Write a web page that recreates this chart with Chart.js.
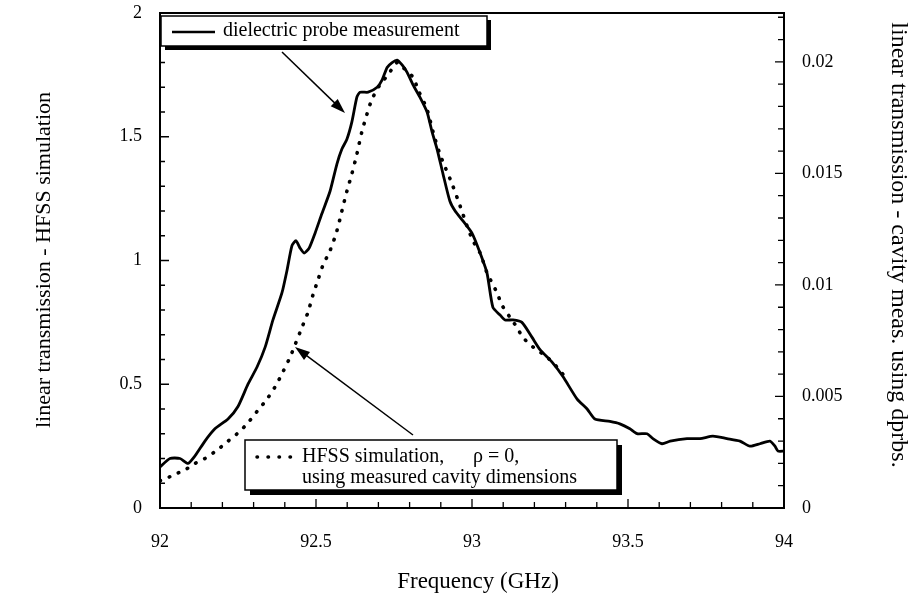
<!DOCTYPE html>
<html>
<head>
<meta charset="utf-8">
<script src="https://cdn.jsdelivr.net/npm/chart.js@4.4.1/dist/chart.umd.min.js"></script>
<style>
  body { margin: 0; background: #fff; }
  canvas { display: block; }
</style>
</head>
<body>
<canvas id="chart" width="912" height="595"></canvas>
<script>
// Dielectric probe measurement (right axis, linear transmission)
const measFreq = [
  92.000, 92.032, 92.064, 92.090, 92.112, 92.144, 92.176, 92.218, 92.250, 92.282,
  92.311, 92.337, 92.362, 92.391, 92.407, 92.423, 92.436, 92.449, 92.462, 92.478,
  92.497, 92.519, 92.545, 92.567, 92.583, 92.599, 92.615, 92.631, 92.641, 92.667,
  92.696, 92.712, 92.728, 92.744, 92.760, 92.776, 92.792, 92.811, 92.833, 92.856,
  92.872, 92.888, 92.907, 92.929, 92.946, 92.971, 93.000, 93.026, 93.048, 93.067,
  93.090, 93.106, 93.131, 93.160, 93.192, 93.218, 93.256, 93.292, 93.337, 93.369,
  93.394, 93.442, 93.474, 93.506, 93.529, 93.561, 93.580, 93.609, 93.635, 93.689,
  93.731, 93.772, 93.817, 93.859, 93.891, 93.923, 93.955, 93.971, 93.981, 94.000
];
const measVal = [
  0.00184, 0.00222, 0.00222, 0.00200, 0.00233, 0.00300, 0.00355, 0.00399, 0.00455, 0.00555,
  0.00632, 0.00721, 0.00843, 0.00965, 0.01065, 0.01176, 0.01198, 0.01165, 0.01143, 0.01165,
  0.01232, 0.01320, 0.01420, 0.01542, 0.01609, 0.01653, 0.01731, 0.01842, 0.01864, 0.01864,
  0.01886, 0.01919, 0.01975, 0.01997, 0.02008, 0.01986, 0.01953, 0.01897, 0.01842, 0.01775,
  0.01686, 0.01609, 0.01498, 0.01376, 0.01331, 0.01287, 0.01232, 0.01143, 0.01054, 0.00899,
  0.00865, 0.00843, 0.00843, 0.00832, 0.00766, 0.00710, 0.00655, 0.00588, 0.00488, 0.00444,
  0.00399, 0.00388, 0.00377, 0.00355, 0.00333, 0.00333, 0.00311, 0.00288, 0.00300, 0.00311,
  0.00311, 0.00322, 0.00311, 0.00300, 0.00277, 0.00288, 0.00300, 0.00277, 0.00255, 0.00255
];

// HFSS simulation (left axis)
const simFreq = [
  92.000, 92.010, 92.042, 92.080, 92.112, 92.144, 92.183, 92.215, 92.247, 92.279,
  92.311, 92.343, 92.369, 92.394, 92.417, 92.433, 92.455, 92.474, 92.490, 92.506,
  92.522, 92.545, 92.567, 92.583, 92.599, 92.615, 92.631, 92.647, 92.663, 92.679,
  92.705, 92.731, 92.760, 92.779, 92.811, 92.827, 92.856, 92.875, 92.897, 92.913,
  92.936, 92.962, 92.984, 93.003, 93.026, 93.048, 93.064, 93.080, 93.096, 93.122,
  93.144, 93.163, 93.196, 93.240, 93.272, 93.298
];
const simVal = [
  0.110, 0.113, 0.133, 0.154, 0.180, 0.200, 0.234, 0.267, 0.300, 0.340,
  0.390, 0.440, 0.490, 0.550, 0.610, 0.660, 0.730, 0.790, 0.860, 0.920,
  0.980, 1.040, 1.120, 1.200, 1.280, 1.350, 1.430, 1.520, 1.590, 1.650,
  1.710, 1.750, 1.800, 1.780, 1.740, 1.690, 1.610, 1.520, 1.430, 1.380,
  1.310, 1.220, 1.140, 1.080, 1.030, 0.950, 0.910, 0.870, 0.820, 0.770,
  0.730, 0.690, 0.650, 0.610, 0.570, 0.530
];

// axis ranges and labels
const freqRange = [92, 94];
const leftRange = [0, 2];
const rightRange = [0, 0.02219];
const xTitle = 'Frequency (GHz)';
const leftTitle = 'linear transmission - HFSS simulation';
const rightTitle = 'linear transmission - cavity meas. using dprbs.';
const measLabel = 'dielectric probe measurement';
const simLabel1 = 'HFSS simulation,';
const simLabel2 = '\u03C1 = 0,';
const simLabel3 = 'using measured cavity dimensions';

const serif = '"Liberation Serif", "Times New Roman", serif';

function fmt(v) {
  return String(Number(v.toFixed(4)));
}

function drawArrow(ctx, x1, y1, x2, y2) {
  const ang = Math.atan2(y2 - y1, x2 - x1);
  const len = 15, half = 5;
  ctx.beginPath();
  ctx.moveTo(x1, y1);
  ctx.lineTo(x2 - Math.cos(ang) * len * 0.8, y2 - Math.sin(ang) * len * 0.8);
  ctx.lineWidth = 1.5;
  ctx.stroke();
  ctx.beginPath();
  ctx.moveTo(x2, y2);
  ctx.lineTo(x2 - Math.cos(ang) * len - Math.sin(ang) * half, y2 - Math.sin(ang) * len + Math.cos(ang) * half);
  ctx.lineTo(x2 - Math.cos(ang) * len + Math.sin(ang) * half, y2 - Math.sin(ang) * len - Math.cos(ang) * half);
  ctx.closePath();
  ctx.fill();
}

function shadowBox(ctx, x, y, w, h, off) {
  ctx.fillStyle = '#000';
  ctx.fillRect(x + off, y + off, w, h);
  ctx.fillStyle = '#fff';
  ctx.fillRect(x, y, w, h);
  ctx.lineWidth = 1.5;
  ctx.strokeRect(x, y, w, h);
}

// no extra room for overhanging tick labels, keep the plot box fixed
function fixSide(size, key) {
  return (s) => {
    s[key] = size;
    s.paddingTop = 0;
    s.paddingBottom = 0;
    s.paddingLeft = 0;
    s.paddingRight = 0;
  };
}

// frame, inward ticks, titles, legend boxes and arrows
const decorations = {
  id: 'decorations',
  afterDatasetsDraw(chart) {
    const ctx = chart.ctx;
    const { left, right, top, bottom } = chart.chartArea;
    const xs = chart.scales.x, yl = chart.scales.y, yr = chart.scales.y2;
    ctx.save();
    ctx.strokeStyle = '#000';
    ctx.fillStyle = '#000';

    // frame
    ctx.lineWidth = 2;
    ctx.strokeRect(left, top, right - left, bottom - top);

    // ticks pointing into the plot
    ctx.lineWidth = 1.3;
    ctx.beginPath();
    for (let i = 0; i <= 20; i++) {
      const px = xs.getPixelForValue(92 + i * 0.1);
      const len = i % 5 === 0 ? 9 : 6;
      ctx.moveTo(px, bottom);
      ctx.lineTo(px, bottom - len);
    }
    for (let i = 0; i <= 20; i++) {
      const py = yl.getPixelForValue(i * 0.1);
      const len = i % 5 === 0 ? 9 : 5;
      ctx.moveTo(left, py);
      ctx.lineTo(left + len, py);
    }
    for (let i = 0; i <= 22; i++) {
      const py = yr.getPixelForValue(i * 0.001);
      const len = i % 5 === 0 ? 9 : 6;
      ctx.moveTo(right, py);
      ctx.lineTo(right - len, py);
    }
    ctx.stroke();

    // axis titles
    ctx.textAlign = 'center';
    ctx.textBaseline = 'middle';
    ctx.font = '23px ' + serif;
    ctx.fillText(xTitle, 478, 582);
    ctx.font = '22px ' + serif;
    ctx.save();
    ctx.translate(44, 260);
    ctx.rotate(-Math.PI / 2);
    ctx.fillText(leftTitle, 0, 0);
    ctx.restore();
    ctx.font = '24px ' + serif;
    ctx.save();
    ctx.translate(898, 245);
    ctx.rotate(Math.PI / 2);
    ctx.fillText(rightTitle, 0, 0);
    ctx.restore();

    // legend box: measurement
    shadowBox(ctx, 161, 16, 326, 30, 4);
    ctx.fillStyle = '#000';
    ctx.lineWidth = 2.5;
    ctx.beginPath();
    ctx.moveTo(172, 32);
    ctx.lineTo(215, 32);
    ctx.stroke();
    ctx.font = '20px ' + serif;
    ctx.textAlign = 'left';
    ctx.fillText(measLabel, 223, 31);

    // legend box: simulation
    shadowBox(ctx, 245, 440, 372, 50, 5);
    ctx.fillStyle = '#000';
    ctx.lineWidth = 3.5;
    ctx.lineCap = 'round';
    ctx.setLineDash([0.5, 10.5]);
    ctx.beginPath();
    ctx.moveTo(257, 457);
    ctx.lineTo(292, 457);
    ctx.stroke();
    ctx.setLineDash([]);
    ctx.lineCap = 'butt';
    ctx.fillText(simLabel1, 302, 457);
    ctx.fillText(simLabel2, 473, 457);
    ctx.fillText(simLabel3, 302, 478);

    // arrows
    drawArrow(ctx, 282, 52, 345, 113);
    drawArrow(ctx, 413, 435, 295, 347);

    ctx.restore();
  }
};

const ctx = document.getElementById('chart');

new Chart(ctx, {
  type: 'line',
  data: {
    datasets: [
      {
        label: measLabel,
        data: measFreq.map((f, i) => ({ x: f, y: measVal[i] })),
        yAxisID: 'y2',
        borderColor: '#000',
        borderWidth: 2.8,
        pointRadius: 0,
        tension: 0.2
      },
      {
        label: 'HFSS simulation',
        data: simFreq.map((f, i) => ({ x: f, y: simVal[i] })),
        yAxisID: 'y',
        borderColor: '#000',
        borderWidth: 3.6,
        borderDash: [0.5, 9.5],
        borderCapStyle: 'round',
        pointRadius: 0,
        tension: 0.3
      }
    ]
  },
  options: {
    responsive: false,
    animation: false,
    layout: { padding: { top: 13, left: 0, right: 0, bottom: 0 } },
    plugins: {
      legend: { display: false },
      tooltip: { enabled: false }
    },
    scales: {
      x: {
        type: 'linear',
        min: freqRange[0],
        max: freqRange[1],
        afterFit: fixSide(87, 'height'),
        grid: { display: false, drawTicks: false },
        border: { display: false },
        ticks: {
          stepSize: 0.5,
          padding: 23,
          color: '#000',
          font: { family: serif, size: 18 },
          maxRotation: 0,
          callback: (v) => fmt(v)
        }
      },
      y: {
        position: 'left',
        min: leftRange[0],
        max: leftRange[1],
        afterFit: fixSide(160, 'width'),
        grid: { display: false, drawTicks: false },
        border: { display: false },
        ticks: {
          stepSize: 0.5,
          padding: 18,
          color: '#000',
          font: { family: serif, size: 18 },
          callback: (v) => fmt(v)
        }
      },
      y2: {
        position: 'right',
        min: rightRange[0],
        max: rightRange[1],
        afterFit: fixSide(128, 'width'),
        grid: { display: false, drawTicks: false },
        border: { display: false },
        ticks: {
          stepSize: 0.005,
          includeBounds: false,
          padding: 18,
          color: '#000',
          font: { family: serif, size: 18 },
          callback: (v) => fmt(v)
        }
      }
    }
  },
  plugins: [decorations]
});
</script>
</body>
</html>
